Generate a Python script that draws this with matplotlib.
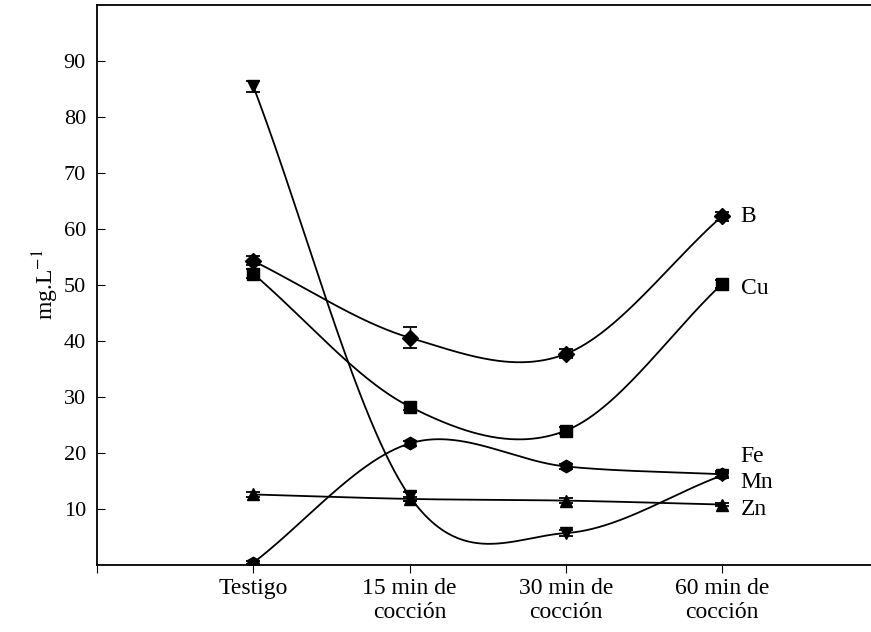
import numpy as np
import matplotlib
matplotlib.use("Agg")
import matplotlib.pyplot as plt

plt.rcParams['font.family'] = ['Liberation Serif', 'DejaVu Serif']
plt.rcParams['mathtext.fontset'] = 'stix'

# categories along x
categories = ["Testigo", "15 min de\ncocción", "30 min de\ncocción", "60 min de\ncocción"]
x_pos = [1, 2, 3, 4]

# mg/L values
b_vals = [54.3, 40.6, 37.7, 62.3]
cu_vals = [52.0, 28.3, 24.0, 50.2]
fe_vals = [0.4, 21.7, 17.6, 16.2]
mn_vals = [85.5, 12.3, 5.7, 16.0]
zn_vals = [12.6, 11.8, 11.5, 10.8]

b_err = [0.8, 1.9, 0.8, 0.8]
cu_err = [0.8, 0.6, 0.6, 0.7]
fe_err = [0.3, 0.5, 0.5, 0.5]
mn_err = [1.0, 0.8, 0.6, 0.5]
zn_err = [0.4, 0.4, 0.4, 0.3]

labels = ["B", "Cu", "Fe", "Mn", "Zn"]
label_y = [62.3, 49.3, 19.3, 14.8, 9.9]


def smooth_curve(x, y, xs):
    # catmull-rom style hermite curve, chord slope at the ends
    x = np.asarray(x, float)
    y = np.asarray(y, float)
    n = len(x)
    m = np.zeros(n)
    m[0] = (y[1] - y[0]) / (x[1] - x[0])
    m[-1] = (y[-1] - y[-2]) / (x[-1] - x[-2])
    for i in range(1, n - 1):
        m[i] = (y[i + 1] - y[i - 1]) / (x[i + 1] - x[i - 1])
    out = np.zeros_like(xs)
    for k, xv in enumerate(xs):
        i = min(max(np.searchsorted(x, xv) - 1, 0), n - 2)
        h = x[i + 1] - x[i]
        t = (xv - x[i]) / h
        h00 = 2 * t ** 3 - 3 * t ** 2 + 1
        h10 = t ** 3 - 2 * t ** 2 + t
        h01 = -2 * t ** 3 + 3 * t ** 2
        h11 = t ** 3 - t ** 2
        out[k] = h00 * y[i] + h10 * h * m[i] + h01 * y[i + 1] + h11 * h * m[i + 1]
    return out


fig = plt.figure(figsize=(8.71, 6.32), dpi=100)
ax = fig.add_axes([0.1114, 0.106, 0.897, 0.886])

xs = np.linspace(1, 4, 300)
series = [
    (b_vals, b_err, 'D', 8),
    (cu_vals, cu_err, 's', 8),
    (fe_vals, fe_err, 'h', 9),
    (mn_vals, mn_err, 'v', 9),
    (zn_vals, zn_err, '^', 9),
]
for vals, err, mk, ms in series:
    ax.plot(xs, smooth_curve(x_pos, vals, xs), color='black', lw=1.3)
    ax.errorbar(x_pos, vals, yerr=err, fmt=mk, color='black', ms=ms,
                capsize=5, elinewidth=1, capthick=1.3)

for lab, ly in zip(labels, label_y):
    ax.text(4.12, ly, lab, fontsize=17, va='center', ha='left')

ax.set_xlim(0, 5)
ax.set_ylim(0, 100)
ax.set_xticks([0] + x_pos)
ax.set_xticklabels([""] + categories, fontsize=17, linespacing=1.2)
ax.set_yticks(range(10, 100, 10))
ax.tick_params(axis='y', labelsize=16, direction='in', length=6, pad=8)
ax.tick_params(axis='x', direction='out', length=6, pad=3)
ax.spines['right'].set_visible(False)
for s in ax.spines.values():
    s.set_linewidth(1.3)
ax.set_ylabel("mg.L$^{-1}$", fontsize=17, labelpad=2)

fig.savefig("out.png", dpi=100)
